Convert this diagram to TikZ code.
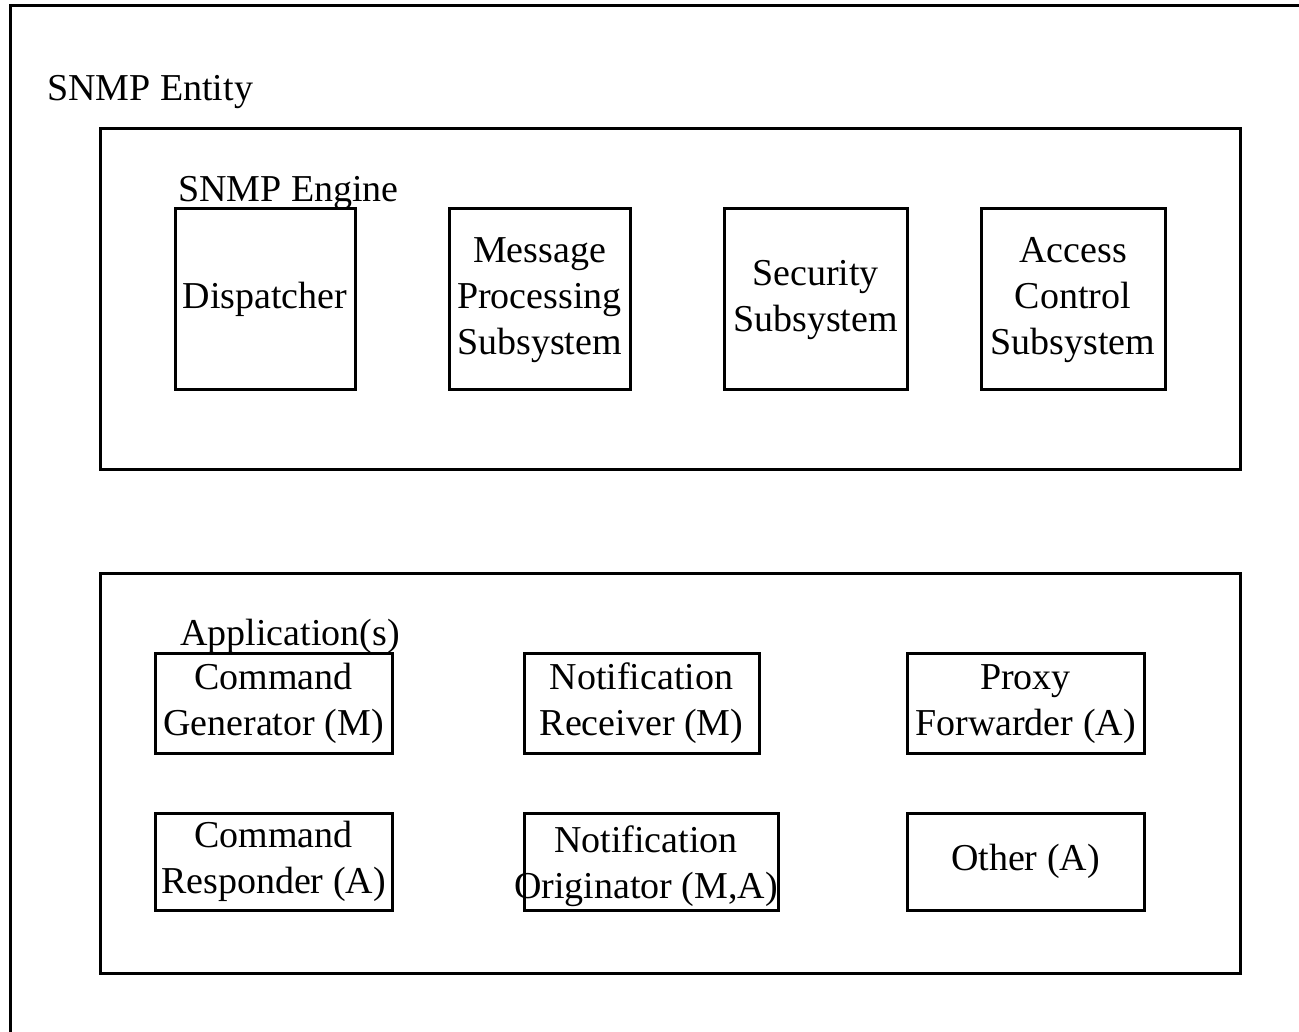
\documentclass[tikz,border=0pt]{standalone}
\usepackage{fontspec}
\setmainfont{Liberation Serif}
\newcommand{\mlt}[1]{\raisebox{-4pt}{\begin{tabular}{@{}c@{}}#1\end{tabular}}}
\begin{document}
\begin{tikzpicture}[x=1pt,y=-1pt,
  every node/.style={font=\fontsize{38}{46}\selectfont},
  box/.style={draw=black,line width=3pt,rectangle,inner sep=0pt,align=center},
  lbl/.style={inner sep=0pt,anchor=base west}]
\useasboundingbox (0,0) rectangle (1299,1032);
\fill[white] (0,0) rectangle (1299,1032);
% outer entity frame (open to right and bottom)
\coordinate (eTR) at (1299,6);
\coordinate (eTL) at (10,6);
\coordinate (eBL) at (10,1032);
\draw[line width=3pt] (eTR) -- (eTL) -- (eBL);
\node[lbl] (entity) at (47,101) {SNMP Entity};
% engine
\node[box,minimum width=1140pt,minimum height=340pt] (engine) at (670,299) {};
\node[lbl] (enginelbl) at (178,202) {SNMP Engine};
\node[box,minimum width=180pt,minimum height=180pt] (disp) at (265,299) {\mlt{Dispatcher}};
\node[box,minimum width=181pt,minimum height=180pt] (mps) at (539.5,299) {\mlt{Message\\Processing\\Subsystem}};
\node[box,minimum width=183pt,minimum height=180pt] (sec) at (815.5,299) {\mlt{Security\\Subsystem}};
\node[box,minimum width=184pt,minimum height=180pt] (acs) at (1073,299) {\mlt{Access\\Control\\Subsystem}};
% applications
\node[box,minimum width=1140pt,minimum height=400pt] (apps) at (670,773) {};
\node[lbl] (appslbl) at (180,645) {Application(s)};
\node[box,minimum width=237pt,minimum height=100pt] (cg) at (273.5,703) {\mlt{Command\\Generator (M)}};
\node[box,minimum width=235pt,minimum height=100pt] (nr) at (641.5,703) {\mlt{Notification\\Receiver (M)}};
\node[box,minimum width=237pt,minimum height=100pt] (pf) at (1025.5,703) {\mlt{Proxy\\Forwarder (A)}};
\node[box,minimum width=237pt,minimum height=97pt] (cr) at (273.5,861.5) {\mlt{Command\\Responder (A)}};
\node[box,minimum width=254pt,minimum height=97pt] (no) at (651,861.5) {};
\node[inner sep=0pt,align=center] (notxt) at (646,866) {\mlt{Notification\\Originator (M,A)}};
\node[box,minimum width=237pt,minimum height=97pt] (oth) at (1025.5,861.5) {\mlt{Other (A)}};
\end{tikzpicture}
\end{document}
